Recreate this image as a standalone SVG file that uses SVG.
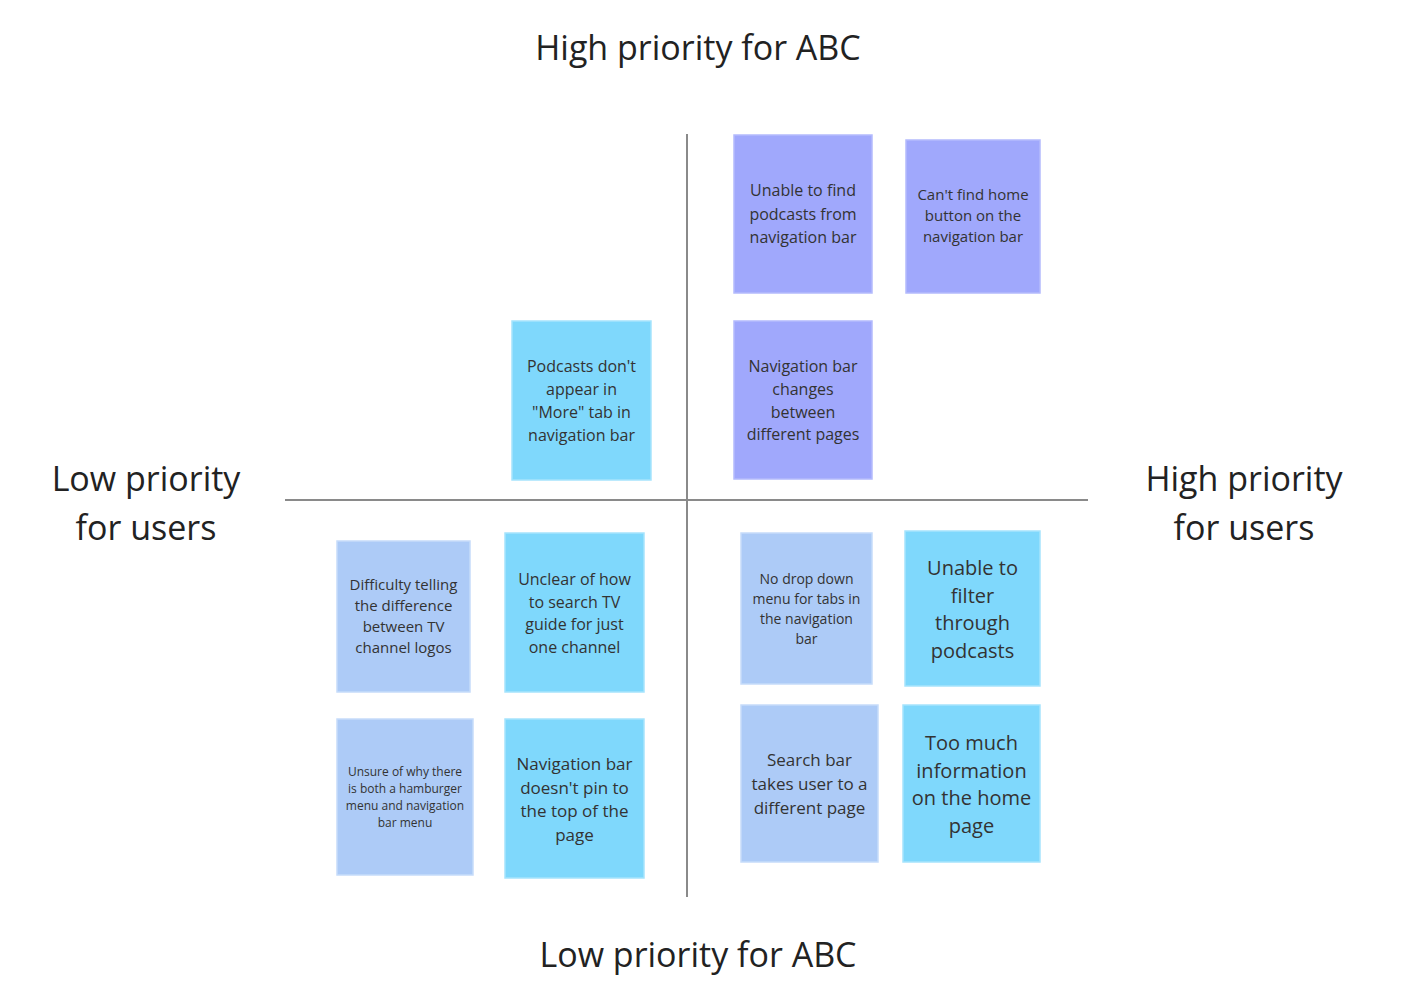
<svg xmlns="http://www.w3.org/2000/svg" width="1408" height="993" viewBox="0 0 1408 993">
<style>
.note{stroke-width:1.5}
.p{fill:#A0A8FC;stroke:#B4BBFD}
.c{fill:#7FD8FC;stroke:#A6E4FD}
.b{fill:#ADCBF7;stroke:#C6DCFA}
text{font-family:"Open Sans","Liberation Sans",sans-serif;text-anchor:middle;fill:#333}
.lbl{fill:#222;font-size:34px}
.axis{stroke:#8a8a8a;stroke-width:2;fill:none}
</style>
<rect width="1408" height="993" fill="#fff"/>
<g id="connectors">
<line class="axis" x1="687" y1="134" x2="687" y2="897"/>
<line class="axis" x1="285" y1="500" x2="1088" y2="500"/>
</g>
<g id="label-top"><text class="lbl" x="698" y="60">High priority for ABC</text></g>
<g id="label-bottom"><text class="lbl" x="698" y="967">Low priority for ABC</text></g>
<g id="label-left"><text class="lbl" x="146" y="491">Low priority</text><text class="lbl" x="146" y="540">for users</text></g>
<g id="label-right"><text class="lbl" x="1244" y="491">High priority</text><text class="lbl" x="1244" y="540">for users</text></g>

<g id="n1"><rect class="note p" x="734" y="135" width="138" height="158"/>
<text font-size="16"><tspan x="803" y="196">Unable to find</tspan><tspan x="803" y="219.5">podcasts from</tspan><tspan x="803" y="243">navigation bar</tspan></text></g>
<g id="n2"><rect class="note p" x="906" y="140" width="134" height="153"/>
<text font-size="15"><tspan x="973" y="200">Can't find home</tspan><tspan x="973" y="221">button on the</tspan><tspan x="973" y="242">navigation bar</tspan></text></g>
<g id="n3"><rect class="note c" x="512" y="321" width="139" height="159"/>
<text font-size="16"><tspan x="581.5" y="371.5">Podcasts don't</tspan><tspan x="581.5" y="394.5">appear in</tspan><tspan x="581.5" y="417.5">"More" tab in</tspan><tspan x="581.5" y="440.5">navigation bar</tspan></text></g>
<g id="n4"><rect class="note p" x="734" y="321" width="138" height="158"/>
<text font-size="16"><tspan x="803" y="371.5">Navigation bar</tspan><tspan x="803" y="394.5">changes</tspan><tspan x="803" y="417.5">between</tspan><tspan x="803" y="440">different pages</tspan></text></g>
<g id="n5"><rect class="note b" x="337" y="541" width="133" height="151"/>
<text font-size="15"><tspan x="403.5" y="590">Difficulty telling</tspan><tspan x="403.5" y="611">the difference</tspan><tspan x="403.5" y="632">between TV</tspan><tspan x="403.5" y="653">channel logos</tspan></text></g>
<g id="n6"><rect class="note c" x="505" y="533" width="139" height="159"/>
<text font-size="16"><tspan x="574.5" y="584.5">Unclear of how</tspan><tspan x="574.5" y="607.5">to search TV</tspan><tspan x="574.5" y="630">guide for just</tspan><tspan x="574.5" y="652.5">one channel</tspan></text></g>
<g id="n7"><rect class="note b" x="337" y="719" width="136" height="156"/>
<text font-size="12"><tspan x="405" y="776">Unsure of why there</tspan><tspan x="405" y="793">is both a hamburger</tspan><tspan x="405" y="810">menu and navigation</tspan><tspan x="405" y="827">bar menu</tspan></text></g>
<g id="n8"><rect class="note c" x="505" y="719" width="139" height="159"/>
<text font-size="17"><tspan x="574.5" y="770">Navigation bar</tspan><tspan x="574.5" y="793.5">doesn't pin to</tspan><tspan x="574.5" y="817">the top of the</tspan><tspan x="574.5" y="840.5">page</tspan></text></g>
<g id="n9"><rect class="note b" x="741" y="533" width="131" height="151"/>
<text font-size="14"><tspan x="806.5" y="584">No drop down</tspan><tspan x="806.5" y="604">menu for tabs in</tspan><tspan x="806.5" y="624">the navigation</tspan><tspan x="806.5" y="644">bar</tspan></text></g>
<g id="n10"><rect class="note c" x="905" y="531" width="135" height="155"/>
<text font-size="20"><tspan x="972.5" y="575">Unable to</tspan><tspan x="972.5" y="602.5">filter</tspan><tspan x="972.5" y="630">through</tspan><tspan x="972.5" y="657.5">podcasts</tspan></text></g>
<g id="n11"><rect class="note b" x="741" y="705" width="137" height="157"/>
<text font-size="17"><tspan x="809.5" y="766">Search bar</tspan><tspan x="809.5" y="790">takes user to a</tspan><tspan x="809.5" y="814">different page</tspan></text></g>
<g id="n12"><rect class="note c" x="903" y="705" width="137" height="157"/>
<text font-size="20"><tspan x="971.5" y="750">Too much</tspan><tspan x="971.5" y="777.5">information</tspan><tspan x="971.5" y="805">on the home</tspan><tspan x="971.5" y="832.5">page</tspan></text></g>
</svg>
